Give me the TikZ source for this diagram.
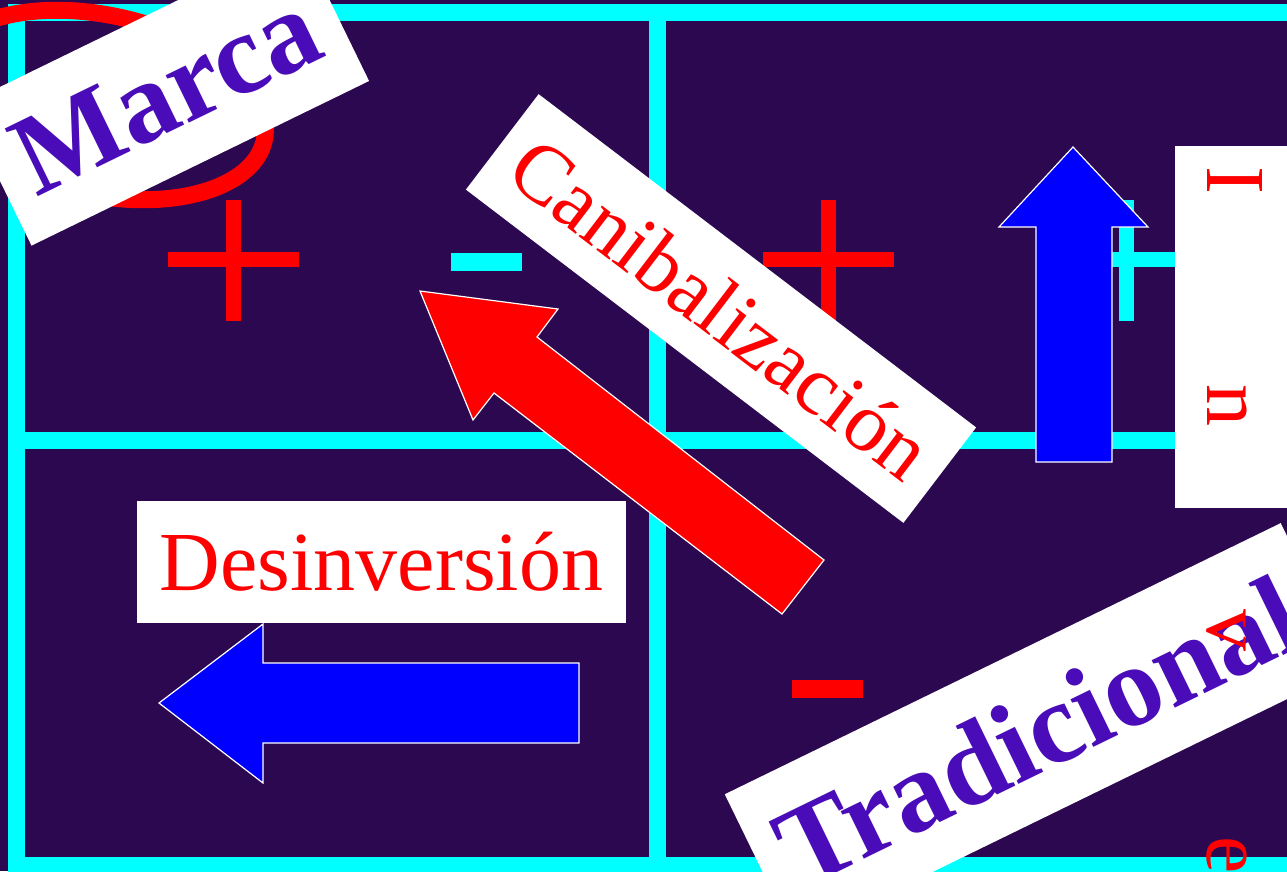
\documentclass[tikz,border=0pt]{standalone}
\usepackage{fontspec}
\setmainfont{Liberation Serif}
\definecolor{fondo}{RGB}{43,8,80}
\definecolor{morado}{RGB}{74,12,184}
\definecolor{cian}{RGB}{0,255,255}
\definecolor{rojo}{RGB}{255,0,0}
\definecolor{azul}{RGB}{0,0,255}

\begin{document}
\begin{tikzpicture}[x=1pt, y=-1pt,
    rejilla/.style={cian, line width=17pt},
    signo/.style={line width=15pt},
    flecha/.style={draw=white, line width=1.2pt},
    rotulo/.style={fill=white, text=rojo, inner sep=0pt, font=\fontsize{84}{90}\selectfont},
    titulo/.style={fill=white, text=morado, inner xsep=26pt, inner ysep=40pt, font=\fontsize{115}{120}\selectfont\bfseries}]
    \useasboundingbox (0,0) rectangle (1287,871);
    \clip (0,0) rectangle (1287,871);
    \fill[fondo] (0,0) rectangle (1287,871);

    \draw[rejilla] (16.5,4) -- (16.5,880);
    \draw[rejilla] (657,4) -- (657,880);
    \foreach \y in {12.5, 440, 865.5}
        \draw[rejilla] (8,\y) -- (1300,\y);

    \draw[rojo, line width=17pt, rotate around={-12:(100,105)}] (100,105) ellipse [x radius=168pt, y radius=90pt];

    \foreach \cx/\col in {233/rojo, 828/rojo, 1126.5/cian}
        \draw[signo, \col] (\cx-65.5,259) -- (\cx+65.5,259) (\cx,200) -- (\cx,321);
    \draw[signo, cian, line width=18pt] (451,262) -- (522,262);
    \draw[signo, rojo, line width=18pt] (792,689) -- (863,689);

    \filldraw[flecha, fill=rojo] (420,291) -- (558,309) -- (537,337) -- (824,560)
        -- (782,614) -- (494,393) -- (473,420) -- cycle;
    \filldraw[flecha, fill=azul] (1073,147) -- (1148,227) -- (1112,227) -- (1112,462)
        -- (1036,462) -- (1036,227) -- (999,227) -- cycle;
    \filldraw[flecha, fill=azul] (159,703) -- (263,624) -- (263,663) -- (579,663)
        -- (579,743) -- (263,743) -- (263,783) -- cycle;

    \fill[white] (1175,146) rectangle (1300,508);

    \node[rotulo, rotate=-37.3, minimum width=550pt, minimum height=120pt] (canibal) at (721,308.5) {Canibalización};
    \node[rotulo, minimum width=489pt, minimum height=122pt] (desinv) at (381.5,561.5) {Desinversión};
    \node[titulo, rotate=26] (marca) at (166,93) {Marca};
    \node[titulo, rotate=26] (tradic) at (1038,731) {Tradicional};
    \node[text=rojo, inner sep=0pt, font=\fontsize{84}{90}\selectfont, rotate=-90, anchor=base west] (letras) at (1207,67.5)
        {\makebox[225pt]{I}\makebox[225pt]{n}\makebox[225pt]{v}\makebox[225pt]{e}};
\end{tikzpicture}
\end{document}
